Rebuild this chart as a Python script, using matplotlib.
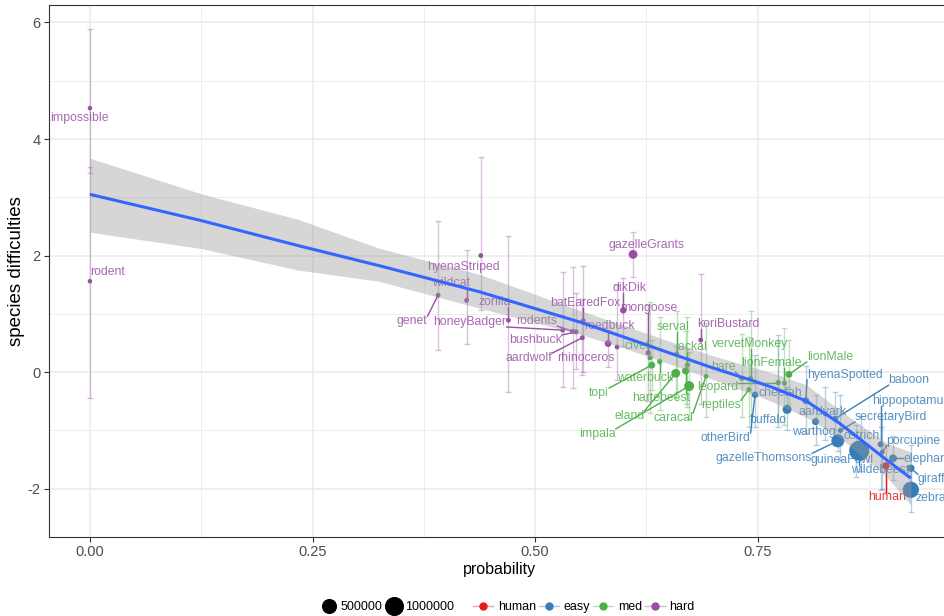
import matplotlib
matplotlib.use("Agg")
import matplotlib.pyplot as plt
from matplotlib.lines import Line2D
import numpy as np

plt.rcParams['font.family'] = ['Liberation Sans', 'DejaVu Sans']

# species, difficulty group, probability, difficulty, interval, number of classifications
species = ['impossible', 'rodent', 'genet', 'wildcat', 'hyenaStriped', 'zorilla',
           'honeyBadger', 'rodents', 'bushbuck', 'aardwolf', 'batEaredFox', 'reedbuck',
           'rhinoceros', 'dikDik', 'mongoose', 'gazelleGrants', 'koriBustard',
           'civet', 'topi', 'waterbuck', 'serval', 'eland', 'hartebeest', 'jackal',
           'impala', 'caracal', 'hare', 'leopard', 'vervetMonkey', 'reptiles',
           'lionFemale', 'lionMale',
           'otherBird', 'cheetah', 'buffalo', 'hyenaSpotted', 'warthog', 'aardvark',
           'baboon', 'secretaryBird', 'gazelleThomsons', 'ostrich', 'guineaFowl',
           'wildebeest', 'hippopotamus', 'porcupine', 'elephant', 'giraffe', 'zebra',
           'human']
group = (['hard'] * 17 + ['med'] * 15 + ['easy'] * 17 + ['human'])
prob = [0.000, 0.000, 0.391, 0.423, 0.439, 0.470,
        0.531, 0.542, 0.546, 0.553, 0.554, 0.582,
        0.592, 0.599, 0.627, 0.610, 0.686,
        0.629, 0.631, 0.640, 0.659, 0.658, 0.669, 0.671,
        0.673, 0.692, 0.732, 0.773, 0.742, 0.740,
        0.780, 0.785,
        0.747, 0.773, 0.783, 0.804, 0.815, 0.826,
        0.837, 0.843, 0.840, 0.866, 0.860,
        0.864, 0.888, 0.890, 0.902, 0.922, 0.922,
        0.894]
diff = [4.53, 1.56, 1.32, 1.23, 2.00, 0.89,
        0.72, 0.70, 0.69, 0.59, 0.88, 0.49,
        0.43, 1.06, 0.33, 2.02, 0.55,
        0.245, 0.12, 0.18, 0.31, -0.02, 0.02, 0.12,
        -0.24, -0.07, -0.11, -0.18, -0.11, -0.30,
        -0.19, -0.04,
        -0.39, -0.18, -0.64, -0.49, -0.85, -0.72,
        -0.80, -1.00, -1.18, -1.30, -1.32,
        -1.35, -1.24, -1.37, -1.48, -1.65, -2.02,
        -1.61]
diff_lo = [3.42, -0.44, 0.38, 0.49, 1.06, -0.35,
           -0.25, -0.28, 0.05, -0.05, 0.00, 0.09,
           -0.14, 0.45, -0.50, 1.63, -0.55,
           -0.70, -0.30, -0.65, -0.35, -0.45, -0.55, -0.60,
           -0.80, -0.77, -0.77, -0.85, -0.75, -0.95,
           -0.90, -0.55,
           -0.95, -0.94, -1.00, -1.05, -1.25, -1.17,
           -1.25, -1.50, -1.35, -1.70, -1.80,
           -1.45, -2.02, -2.00, -1.85, -2.00, -2.40,
           -2.05]
diff_hi = [5.88, 3.52, 2.60, 2.09, 3.69, 2.33,
           1.72, 1.80, 1.35, 1.25, 1.82, 0.72,
           1.49, 1.62, 1.15, 2.40, 1.69,
           1.20, 0.55, 0.95, 1.05, 0.45, 0.70, 0.95,
           0.35, 0.85, 0.66, 0.55, 1.05, 0.60,
           0.75, 0.55,
           0.30, 0.63, -0.25, 0.10, -0.40, -0.25,
           -0.34, -0.39, -1.00, -0.75, -0.90,
           -1.25, -0.94, -0.80, -1.10, -1.25, -1.62,
           -1.25]
n_class = [1000, 1000, 3000, 3000, 3000, 3000,
           3000, 4000, 5000, 4000, 4000, 40000,
           3000, 30000, 5000, 120000, 3000,
           4000, 45000, 8000, 6000, 120000, 50000, 6000,
           190000, 3000, 4000, 4000, 5000, 3000,
           6000, 45000,
           30000, 3000, 130000, 40000, 50000, 3000,
           20000, 5000, 430000, 8000, 20000,
           1365000, 20000, 4000, 80000, 60000, 800000,
           60000]

# loess fit with its confidence band
fit_x = [0.0, 0.125, 0.234, 0.324, 0.437, 0.55, 0.60, 0.662, 0.70, 0.745,
         0.768, 0.805, 0.842, 0.865, 0.895, 0.922]
fit_y = [3.05, 2.60, 2.17, 1.83, 1.38, 0.86, 0.60, 0.27, 0.07, -0.15,
         -0.27, -0.50, -0.88, -1.15, -1.51, -1.82]
fit_lo = [2.40, 2.12, 1.75, 1.56, 1.10, 0.65, 0.41, 0.08, -0.13, -0.38,
          -0.52, -0.78, -1.12, -1.42, -1.80, -2.28]
fit_hi = [3.67, 3.06, 2.62, 2.13, 1.68, 1.06, 0.80, 0.47, 0.28, 0.08,
          -0.02, -0.22, -0.65, -0.90, -1.22, -1.37]

groups = ['human', 'easy', 'med', 'hard']
colours = {'human': '#E41A1C', 'easy': '#377EB8', 'med': '#4DAF4A', 'hard': '#984EA3'}
size_breaks = [500000, 1000000]

# where each label sits (data coords)
label_at = {
    'impossible': (-0.012, 4.36), 'rodent': (0.020, 1.72), 'genet': (0.362, 0.875),
    'wildcat': (0.405, 1.53), 'hyenaStriped': (0.420, 1.80), 'zorilla': (0.455, 1.20),
    'honeyBadger': (0.427, 0.86), 'rodents': (0.502, 0.875), 'bushbuck': (0.500, 0.55),
    'aardwolf': (0.493, 0.24), 'rhinoceros': (0.557, 0.24), 'batEaredFox': (0.556, 1.18),
    'reedbuck': (0.583, 0.79), 'dikDik': (0.606, 1.44), 'mongoose': (0.628, 1.10),
    'gazelleGrants': (0.625, 2.18), 'koriBustard': (0.717, 0.82), 'civet': (0.615, 0.45),
    'serval': (0.655, 0.77), 'jackal': (0.675, 0.43), 'topi': (0.572, -0.36),
    'waterbuck': (0.623, -0.10), 'hartebeest': (0.642, -0.45), 'eland': (0.606, -0.75),
    'impala': (0.570, -1.06), 'caracal': (0.655, -0.79), 'leopard': (0.705, -0.26),
    'hare': (0.711, 0.09), 'reptiles': (0.709, -0.57), 'vervetMonkey': (0.741, 0.48),
    'lionFemale': (0.765, 0.15), 'lionMale': (0.831, 0.26), 'hyenaSpotted': (0.848, -0.05),
    'cheetah': (0.775, -0.36), 'buffalo': (0.761, -0.82), 'otherBird': (0.714, -1.13),
    'aardvark': (0.823, -0.69), 'baboon': (0.920, -0.14), 'warthog': (0.813, -1.03),
    'secretaryBird': (0.900, -0.77), 'ostrich': (0.867, -1.10),
    'gazelleThomsons': (0.757, -1.48), 'guineaFowl': (0.845, -1.51),
    'hippopotamus': (0.922, -0.50), 'porcupine': (0.925, -1.18),
    'wildebeest': (0.888, -1.68), 'elephant': (0.940, -1.49), 'giraffe': (0.949, -1.84),
    'zebra': (0.945, -2.16), 'human': (0.895, -2.14),
}


def marker_px(n):
    return 4.05 + 0.01365 * np.sqrt(n)


fig = plt.figure(figsize=(9.44, 6.16), dpi=100)
ax = fig.add_axes([49 / 944, 79 / 616, 901 / 944, 532 / 616])

prob_a = np.array(prob)
diff_a = np.array(diff)
lo_a = np.array(diff_lo)
hi_a = np.array(diff_hi)
n_a = np.array(n_class)
grp_a = np.array(group)

draw_order = ['easy', 'med', 'hard', 'human']
for g in draw_order:
    m = grp_a == g
    ax.errorbar(prob_a[m], diff_a[m], yerr=[diff_a[m] - lo_a[m], hi_a[m] - diff_a[m]],
                fmt='none', ecolor=colours[g], alpha=0.35, elinewidth=1.0,
                capsize=2.2, capthick=1.0, zorder=2)

for g in draw_order:
    m = grp_a == g
    ax.scatter(prob_a[m], diff_a[m], s=(marker_px(n_a[m]) * 0.72) ** 2,
               color=colours[g], edgecolors='none', zorder=3)

texts = []
for name, g, x, y in zip(species, group, prob, diff):
    tx, ty = label_at[name]
    t = ax.text(tx, ty, name, color=colours[g], alpha=0.85, fontsize=8.8,
                ha='center', va='center', zorder=3.5, clip_on=False)
    texts.append((t, x, y, colours[g]))

ax.set_xlim(-0.046, 0.966)
ax.set_ylim(-2.83, 6.3)

# connector segments from label box to its point
fig.canvas.draw()
renderer = fig.canvas.get_renderer()
inv = ax.transData.inverted()
for t, x, y, c in texts:
    bb = t.get_window_extent(renderer)
    px, py = ax.transData.transform((x, y))
    cx = min(max(px, bb.x0), bb.x1)
    cy = min(max(py, bb.y0 + 1), bb.y1 - 1)
    d = np.hypot(px - cx, py - cy)
    if d > 7:
        ex, ey = px - (px - cx) / d * 2, py - (py - cy) / d * 2
        (dx0, dy0) = inv.transform((cx, cy))
        (dx1, dy1) = inv.transform((ex, ey))
        ax.plot([dx0, dx1], [dy0, dy1], color=c, lw=1.0, zorder=3.4)

ax.fill_between(fit_x, fit_lo, fit_hi, color='#999999', alpha=0.4, lw=0, zorder=4)
ax.plot(fit_x, fit_y, color='#3366FF', lw=2.2, zorder=5, solid_capstyle='butt')

ax.set_xticks([0, 0.25, 0.5, 0.75])
ax.set_xticklabels(['0.00', '0.25', '0.50', '0.75'])
ax.set_yticks([-2, 0, 2, 4, 6])
ax.set_yticklabels(['-2', '0', '2', '4', '6'])
ax.set_xticks([0.125, 0.375, 0.625, 0.875], minor=True)
ax.set_yticks([-1, 1, 3, 5], minor=True)
ax.grid(which='major', color='#EBEBEB', lw=1.1, zorder=0)
ax.grid(which='minor', color='#EBEBEB', lw=0.6, zorder=0)
ax.set_axisbelow(True)
ax.tick_params(which='major', length=3.5, width=0.8, color='#333333',
               labelcolor='#4D4D4D', labelsize=10.5, pad=2.5)
ax.tick_params(which='minor', length=0)
for sp in ax.spines.values():
    sp.set_color('#333333')
    sp.set_linewidth(0.8)

ax.set_xlabel('probability', fontsize=11.5, labelpad=2)
ax.set_ylabel('species difficulties', fontsize=13.5, labelpad=2)

size_handles = [Line2D([], [], ls='', marker='o', color='black',
                       markersize=marker_px(b) * 0.72) for b in size_breaks]
fig.legend(size_handles, [str(b) for b in size_breaks], loc='center',
           bbox_to_anchor=(388 / 944, 9 / 616), ncol=2, frameon=False,
           fontsize=9, handletextpad=0.3, columnspacing=0.3, handlelength=1.2)

colour_handles = []
for g in groups:
    r, gg, b, _ = matplotlib.colors.to_rgba(colours[g])
    colour_handles.append(Line2D([], [], color=(r, gg, b, 0.4), lw=1.0, marker='o',
                                 markersize=5, markerfacecolor=colours[g],
                                 markeredgecolor=colours[g]))
fig.legend(colour_handles, groups, loc='center', bbox_to_anchor=(584 / 944, 9 / 616),
           ncol=4, frameon=False, fontsize=9, handletextpad=0.4,
           columnspacing=0.2, handlelength=1.6)

fig.savefig('out.png', dpi=100)
